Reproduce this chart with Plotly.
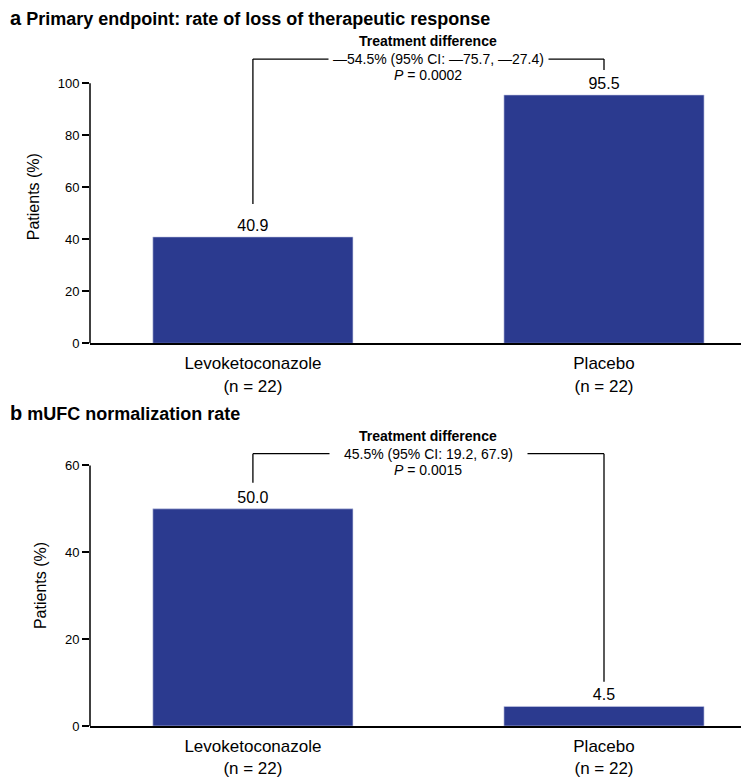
import plotly.graph_objects as go

# data
groups = ["Levoketoconazole<br>(n = 22)", "Placebo<br>(n = 22)"]
loss_of_response = [40.9, 95.5]
mufc_normalization = [50.0, 4.5]
loss_ticks = [0, 20, 40, 60, 80, 100]
mufc_ticks = [0, 20, 40, 60]

# bracket heights (data units) and texts
loss_bracket = {"top": 109.3, "left_end": 53.6, "right_end": 105.1, "text_x": 0.53,
                "line": "\u201454.5% (95% CI: \u201475.7, \u201427.4)", "p": "0.0002", "pad": 4}
mufc_bracket = {"top": 62.7, "left_end": 56.0, "right_end": 10.2, "text_x": 0.5,
                "line": "45.5% (95% CI: 19.2, 67.9)", "p": "0.0015", "pad": 14}

BAR = "#2b3a8f"
FONT = "Liberation Sans, Arial"
# the page body adds an 8px margin, so the figure is drawn 8px smaller
W, H = 741, 769

fig = go.Figure()

panels = [
    ("", loss_of_response, loss_ticks, [0, 112.8], [1 - 335.3 / H, 1 - 42 / H], loss_bracket),
    ("2", mufc_normalization, mufc_ticks, [0, 64.7], [1 - 718 / H, 1 - 437 / H], mufc_bracket),
]

for suffix, vals, ticks, yrange, ydom, br in panels:
    xa, ya = "x" + suffix, "y" + suffix
    fig.add_trace(go.Bar(
        x=groups, y=vals, xaxis=xa, yaxis=ya,
        marker=dict(color=BAR, line=dict(color="#c9cde6", width=0.6)),
        width=0.57, text=[f"{v:.1f}" for v in vals], textposition="outside",
        textfont=dict(size=16, color="black", family=FONT), cliponaxis=False,
        showlegend=False, hoverinfo="skip",
    ))
    fig.layout["xaxis" + suffix] = dict(
        domain=[82 / W, 1.0], range=[-0.464, 1.413], anchor=ya, automargin=False,
        showline=True, linecolor="black", linewidth=1.5, ticks="",
        showgrid=False, zeroline=False, ticklabelstandoff=4,
        tickfont=dict(size=17, family=FONT, color="black"),
    )
    fig.layout["yaxis" + suffix] = dict(
        domain=ydom, range=yrange, anchor=xa, showline=False, automargin=False,
        tickvals=ticks, ticks="outside", ticklen=7, tickwidth=1.5, tickcolor="black",
        showgrid=False, zeroline=False,
        tickfont=dict(size=13, family=FONT, color="black"),
        title=dict(text="Patients (%)", font=dict(size=16, family=FONT, color="black"),
                   standoff=14),
    )
    # y axis line only up to the last tick
    fig.add_shape(type="line", xref=xa + " domain", yref=ya, x0=0, x1=0, y0=0, y1=ticks[-1],
                  line=dict(color="black", width=1.5))
    # bracket between the two bars
    fig.add_shape(type="line", xref=xa, yref=ya, x0=0, x1=0, y0=br["left_end"], y1=br["top"],
                  line=dict(color="black", width=1.3))
    fig.add_shape(type="line", xref=xa, yref=ya, x0=0, x1=1, y0=br["top"], y1=br["top"],
                  line=dict(color="black", width=1.3))
    fig.add_shape(type="line", xref=xa, yref=ya, x0=1, x1=1, y0=br["right_end"], y1=br["top"],
                  line=dict(color="black", width=1.3))
    fig.add_annotation(xref=xa, yref=ya, x=br["text_x"], y=br["top"], text=br["line"],
                       showarrow=False, bgcolor="white", borderpad=br["pad"],
                       font=dict(size=14, family=FONT, color="black"))
    fig.add_annotation(xref=xa, yref=ya, x=0.5, y=br["top"], yshift=18,
                       text="<b>Treatment difference</b>", showarrow=False,
                       font=dict(size=14, family=FONT, color="black"))
    fig.add_annotation(xref=xa, yref=ya, x=0.5, y=br["top"], yshift=-16,
                       text="<i>P</i> = " + br["p"], showarrow=False,
                       font=dict(size=14, family=FONT, color="black"))

# panel titles
fig.add_annotation(xref="paper", yref="paper", x=0, y=1 - 10 / H,
                   xanchor="left", yanchor="middle",
                   text="<b><span style='font-size:20px'>a</span> Primary endpoint: rate of loss of therapeutic response</b>",
                   showarrow=False, font=dict(size=18, family=FONT, color="black"))
fig.add_annotation(xref="paper", yref="paper", x=0, y=1 - 405 / H,
                   xanchor="left", yanchor="middle",
                   text="<b><span style='font-size:20px'>b</span> mUFC normalization rate</b>",
                   showarrow=False, font=dict(size=18, family=FONT, color="black"))

fig.update_layout(
    width=W, height=H, margin=dict(l=0, r=0, t=0, b=0),
    plot_bgcolor="white", paper_bgcolor="white",
)

fig.write_html("out.html")
